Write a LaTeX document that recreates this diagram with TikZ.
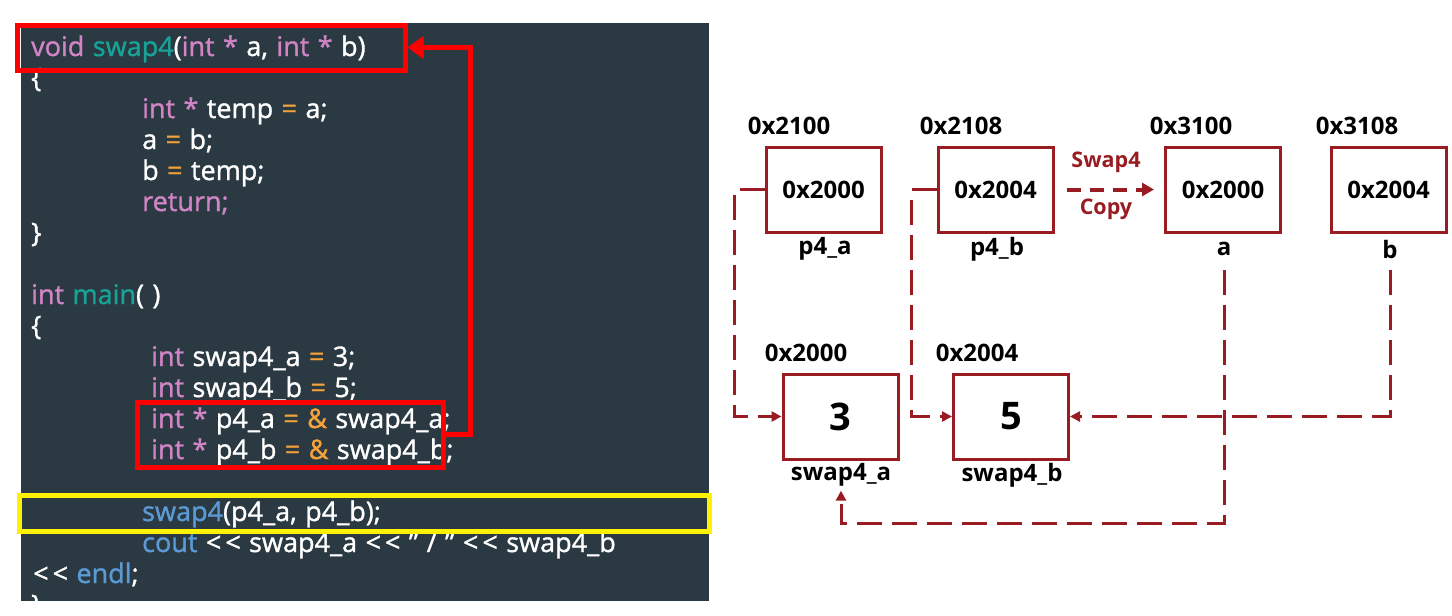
\documentclass[tikz,border=0pt]{standalone}
\usepackage{fontspec}
\setmainfont{Open Sans}
\newfontfamily\codefont[FakeBold=1.2,WordSpace=1.2]{Open Sans}
\usetikzlibrary{arrows.meta}
\definecolor{bg}{HTML}{2B3942}
\definecolor{kw}{HTML}{D185C6}
\definecolor{fn}{HTML}{17A398}
\definecolor{op}{HTML}{F5A23A}
\definecolor{bl}{HTML}{5B9BD5}
\definecolor{dr}{HTML}{981C22}
\newcommand\kwd[1]{\textcolor{kw}{#1}}
\newcommand\fnc[1]{\textcolor{fn}{#1}}
\newcommand\opr[1]{\textcolor{op}{#1}}
\newcommand\blu[1]{\textcolor{bl}{#1}}
\newcommand\ltlt{<\kern4pt<}
\tikzset{
  codeline/.style={anchor=base west, inner sep=0pt, text=white, font=\codefont\fontsize{27}{30}\selectfont},
  redbox/.style={draw=red, line width=5pt, inner sep=0pt},
  yelbox/.style={draw=yellow, line width=5pt, inner sep=0pt},
  redlink/.style={draw=red, line width=5pt, -{Triangle[length=16pt,width=22pt]}},
  mem/.style={draw=dr, line width=3pt, minimum width=115pt, minimum height=85pt, inner sep=0pt, font=\fontsize{24}{27}\selectfont\bfseries},
  val/.style={mem, font=\fontsize{38}{42}\selectfont\bfseries},
  lbl/.style={inner sep=0pt, font=\fontsize{24}{27}\selectfont\bfseries},
  redlbl/.style={inner sep=0pt, text=dr, font=\fontsize{21.5}{24}\selectfont\bfseries},
  dlink/.style={draw=dr, line width=3pt, dash pattern=on 25pt off 10pt, -{Triangle[length=10pt,width=10pt]}},
  cplink/.style={draw=dr, line width=4pt, dash pattern=on 14pt off 9pt, -{Triangle[length=12pt,width=13pt]}},
}
\begin{document}
\begin{tikzpicture}[x=1pt,y=-1pt]
\useasboundingbox (0,0) rectangle (1452,616);
\fill[bg] (21,23) rectangle (709,601);
\begin{scope}
\clip (21,23) rectangle (709,601);
\node[codeline] (l0) at (31,56) {\kwd{void} \fnc{swap4}(\kwd{int *} a, \kwd{int *} b)};
\node[codeline] (l1) at (31,87) {\{};
\node[codeline] (l2) at (142,118) {\kwd{int *} temp \opr{=} a;};
\node[codeline] (l3) at (142,149) {a \opr{=} b;};
\node[codeline] (l4) at (142,180) {b \opr{=} temp;};
\node[codeline] (l5) at (142,211) {\kwd{return;}};
\node[codeline] (l6) at (31,242) {\}};
\node[codeline] (l7) at (31,304) {\kwd{int} \fnc{main}( )};
\node[codeline] (l8) at (31,335) {\{};
\node[codeline] (l9) at (151,366) {\kwd{int} swap4\_a \opr{=} 3;};
\node[codeline] (l10) at (151,397) {\kwd{int} swap4\_b \opr{=} 5;};
\node[codeline] (l11) at (151,428) {\kwd{int *} p4\_a \opr{= \&} swap4\_a;};
\node[codeline] (l12) at (151,459) {\kwd{int *} p4\_b \opr{= \&} swap4\_b;};
\node[codeline] (l13) at (142,521) {\blu{swap4}(p4\_a, p4\_b);};
\node[codeline] (l14) at (142,552) {\blu{cout} \ltlt{} swap4\_a \ltlt{} ” / ” \ltlt{} swap4\_b};
\node[codeline] (l15) at (33,583) {\ltlt{} \blu{endl};};
\node[codeline] (l16) at (31,614) {\}};
\end{scope}
\node[redbox, minimum width=388pt, minimum height=45pt] (b1) at (211,47.5) {};
\node[redbox, minimum width=306pt, minimum height=65pt] (b2) at (290,434.5) {};
\node[yelbox, minimum width=690pt, minimum height=36pt] (b3) at (364,513) {};
\draw[redlink] (b2.east) -- ++(25,0) |- (b1.east);

% memory diagram
\node[mem] (pa) at (823.5,189.5) {0x2000};
\node[mem] (pb) at (995.5,189.5) {0x2004};
\node[mem] (ra) at (1223,189.5) {0x2000};
\node[mem] (rb) at (1388.5,189.5) {0x2004};
\node[val] (sa) at (840.5,416.5) {3};
\node[val] (sb) at (1011,416.5) {5};

\node[lbl] (ta1) at (789,126) {0x2100};
\node[lbl] (ta2) at (961,126) {0x2108};
\node[lbl] (ta3) at (1191,126) {0x3100};
\node[lbl] (ta4) at (1357,126) {0x3108};
\node[lbl] (ta5) at (806,353) {0x2000};
\node[lbl] (ta6) at (977,353) {0x2004};
\node[lbl] (lpa) at (825,249) {p4\_a};
\node[lbl] (lpb) at (997,249) {p4\_b};
\node[lbl] (lra) at (1224,249) {a};
\node[lbl] (lrb) at (1390,249) {b};
\node[lbl] (lsa) at (841,475) {swap4\_a};
\node[lbl] (lsb) at (1012,475) {swap4\_b};

\node[redlbl] (sw) at (1106,162) {Swap4};
\node[redlbl] (cp) at (1106,209) {Copy};
\draw[cplink, shorten <=12pt, shorten >=10pt] (pb.east) -- (ra.west);

\draw[dlink] (pa.west) -- ++(-30,0) |- (sa.west);
\draw[dlink] (pb.west) -- ++(-25,0) |- (sb.west);
\coordinate (bstart) at (1390,270);
\draw[dlink] (bstart) |- (sb.east);
\coordinate (astart) at (1224,270);
\coordinate (aturn) at (1224,523);
\draw[dlink, shorten >=4pt] (astart) -- (aturn) -| (lsa.south);
\end{tikzpicture}
\end{document}
